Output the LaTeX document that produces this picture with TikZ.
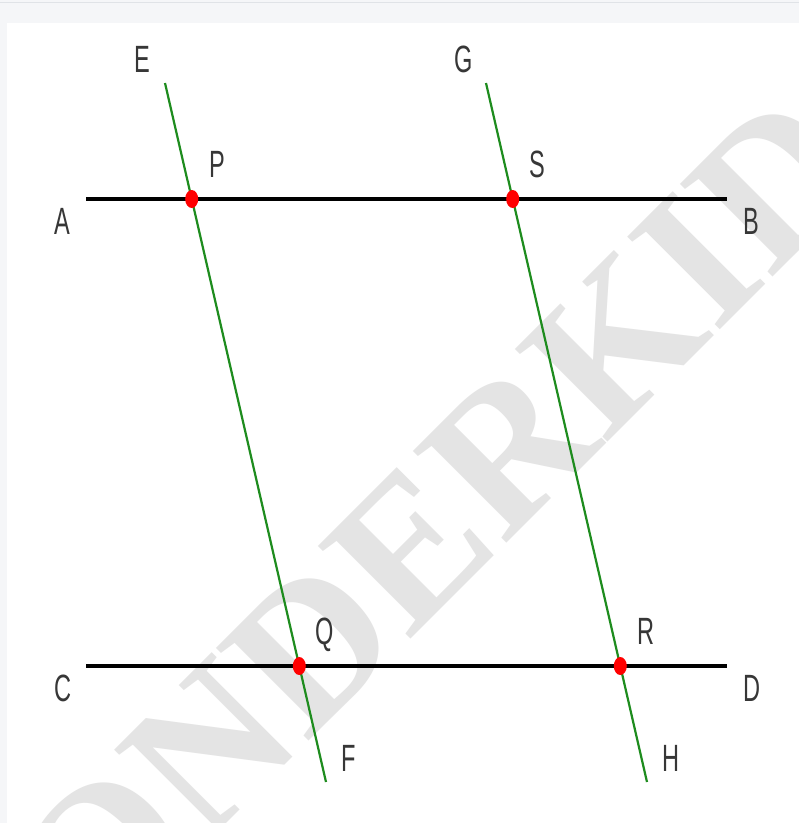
\documentclass[tikz,border=0pt]{standalone}
\usepackage{fontspec}
\newfontfamily\lblfont[FakeStretch=0.62]{Liberation Sans}
\newfontfamily\wmfontfam{Liberation Serif}
\definecolor{bandgray}{RGB}{245,246,248}
\definecolor{bandline}{RGB}{224,227,231}
\definecolor{wmgray}{RGB}{228,228,228}
\definecolor{lgreen}{RGB}{30,140,30}
\definecolor{dotred}{RGB}{255,0,0}
\definecolor{lbl}{RGB}{55,55,55}
\tikzset{
  blackline/.style={line width=3.8pt, black},
  greenline/.style={line width=2.2pt, lgreen},
  dotmark/.style={fill=dotred, draw=none},
  ptlabel/.style={anchor=base, inner sep=0pt, text=lbl, font=\lblfont\fontsize{38}{38}\selectfont},
  watermark/.style={anchor=base west, rotate=45, inner sep=0pt, text=wmgray, font=\wmfontfam\bfseries\fontsize{200}{200}\selectfont}
}
\begin{document}
\begin{tikzpicture}[x=1pt,y=-1pt]
\useasboundingbox (0,0) rectangle (799,823);
\clip (0,0) rectangle (799,823);
% background
\fill[white] (0,0) rectangle (799,823);
\fill[bandgray] (0,0) rectangle (799,23);
\fill[bandgray] (0,0) rectangle (7,823);
\draw[bandline, line width=1.5pt] (0,2.5) -- (799,2.5);
% watermark
\node[watermark] (wm) at (-47,1097) {WONDERKIDS};
% coordinates
\coordinate (a) at (86,199);
\coordinate (b) at (727,199);
\coordinate (c) at (86,666);
\coordinate (d) at (727,666);
\coordinate (e) at (165,83);
\coordinate (f) at (326,782);
\coordinate (g) at (486,83);
\coordinate (h) at (647,782);
\coordinate (p) at (191.7,199);
\coordinate (q) at (299.3,666);
\coordinate (s) at (512.7,199);
\coordinate (r) at (620.3,666);
% lines
\draw[blackline] (a) -- (b);
\draw[blackline] (c) -- (d);
\draw[greenline] (e) -- (f);
\draw[greenline] (g) -- (h);
% dots
\foreach \pt in {p,q,r,s} \fill[dotmark] (\pt) ellipse [x radius=6.5, y radius=9];
% labels
\node[ptlabel] (lE) at (142,72) {E};
\node[ptlabel] (lG) at (464,72) {G};
\node[ptlabel] (lP) at (217,177) {P};
\node[ptlabel] (lS) at (537,177) {S};
\node[ptlabel] (lA) at (62,234) {A};
\node[ptlabel] (lB) at (751,234) {B};
\node[ptlabel] (lC) at (63,701) {C};
\node[ptlabel] (lD) at (752,701) {D};
\node[ptlabel] (lQ) at (325,644) {Q};
\node[ptlabel] (lR) at (646,644) {R};
\node[ptlabel] (lF) at (349,771) {F};
\node[ptlabel] (lH) at (671,771) {H};
\end{tikzpicture}
\end{document}
